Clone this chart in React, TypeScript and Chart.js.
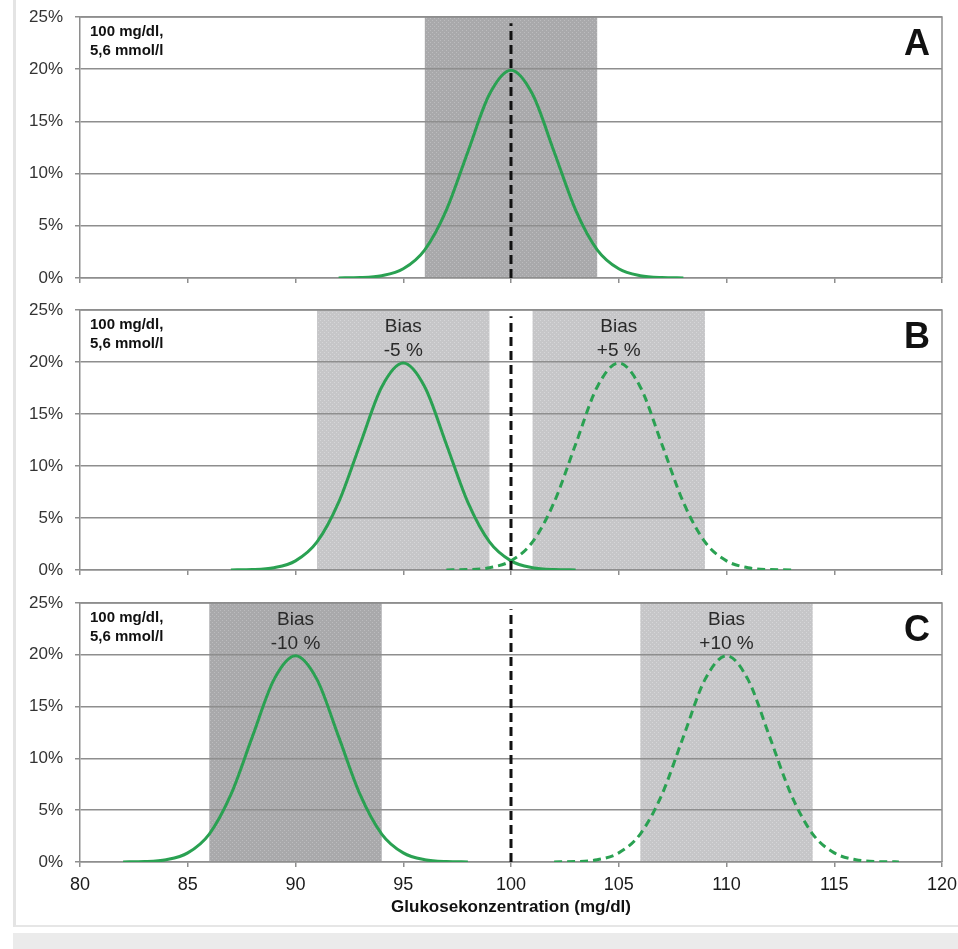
import React, { useEffect, useRef } from 'react';
import { Chart, registerables } from 'chart.js';

Chart.register(...registerables);

// ---------- data ----------
const xMin = 80;
const xMax = 120;
const xStep = 5;
const yTicksPct = [0, 5, 10, 15, 20, 25];
const referenceValue = 100; // mg/dl
const referenceLineTop = 24.4; // % (where the dashed line starts)

// frequency (%) of one measurement distribution (same shape for every curve)
const curvePct = [0.01, 0.04, 0.22, 0.88, 2.7, 6.5, 12.1, 17.6, 19.9, 17.6, 12.1, 6.5, 2.7, 0.88, 0.22, 0.04, 0.01];

const glucoseA = [92, 93, 94, 95, 96, 97, 98, 99, 100, 101, 102, 103, 104, 105, 106, 107, 108];
const glucoseBminus = [87, 88, 89, 90, 91, 92, 93, 94, 95, 96, 97, 98, 99, 100, 101, 102, 103];
const glucoseBplus = [97, 98, 99, 100, 101, 102, 103, 104, 105, 106, 107, 108, 109, 110, 111, 112, 113];
const glucoseCminus = [82, 83, 84, 85, 86, 87, 88, 89, 90, 91, 92, 93, 94, 95, 96, 97, 98];
const glucoseCplus = [102, 103, 104, 105, 106, 107, 108, 109, 110, 111, 112, 113, 114, 115, 116, 117, 118];

const bandsA = [{ from: 96, to: 104, tone: 'dark' }];
const bandsB = [{ from: 91, to: 99, tone: 'light' }, { from: 101, to: 109, tone: 'light' }];
const bandsC = [{ from: 86, to: 94, tone: 'dark' }, { from: 106, to: 114, tone: 'light' }];

const biasB = [{ x: 95, lines: ['Bias', '-5 %'] }, { x: 105, lines: ['Bias', '+5 %'] }];
const biasC = [{ x: 90, lines: ['Bias', '-10 %'] }, { x: 110, lines: ['Bias', '+10 %'] }];

const concLabel = ['100 mg/dl,', '5,6 mmol/l'];
const xTitle = 'Glukosekonzentration (mg/dl)';

// ---------- styles ----------
const FONT = "'Liberation Sans', Arial, sans-serif";
const GREEN = '#2aa152';
const GRID = '#8e8e8e';

type Band = { from: number; to: number; tone: string };
type Bias = { x: number; lines: string[] };
type Curve = { x: number[]; dashed: boolean };
type PanelDef = {
  letter: string;
  curves: Curve[];
  bands: Band[];
  bias: Bias[];
  top: number;
  height: number;
  padTop: number;
  xAxisHeight: number;
  padBottom: number;
  showX: boolean;
};

const panels: PanelDef[] = [
  { letter: 'A', curves: [{ x: glucoseA, dashed: false }], bands: bandsA, bias: [], top: 0, height: 292, padTop: 17, xAxisHeight: 14, padBottom: 0, showX: false },
  { letter: 'B', curves: [{ x: glucoseBminus, dashed: false }, { x: glucoseBplus, dashed: true }], bands: bandsB, bias: biasB, top: 292, height: 290, padTop: 18, xAxisHeight: 12, padBottom: 0, showX: false },
  { letter: 'C', curves: [{ x: glucoseCminus, dashed: false }, { x: glucoseCplus, dashed: true }], bands: bandsC, bias: biasC, top: 582, height: 367, padTop: 21, xAxisHeight: 63, padBottom: 24, showX: true },
];

function makePattern(ctx: CanvasRenderingContext2D, base: string, dot: string) {
  const c = document.createElement('canvas');
  c.width = 4;
  c.height = 4;
  const g = c.getContext('2d')!;
  g.fillStyle = base;
  g.fillRect(0, 0, 4, 4);
  g.fillStyle = dot;
  g.fillRect(0, 0, 1, 1);
  g.fillRect(2, 2, 1, 1);
  return ctx.createPattern(c, 'repeat') || base;
}

function PanelChart({ def }: { def: PanelDef }) {
  const ref = useRef<HTMLCanvasElement | null>(null);
  useEffect(() => {
    const canvas = ref.current!;
    const ctx = canvas.getContext('2d')!;
    const darkFill = makePattern(ctx, '#a9a9ab', '#bcbcbe');
    const lightFill = makePattern(ctx, '#c6c6c8', '#d6d6d8');

    const bandPlugin = {
      id: 'bands',
      beforeDraw(chart: any) {
        const { ctx: c, chartArea, scales } = chart;
        c.save();
        def.bands.forEach((b) => {
          const x0 = scales.x.getPixelForValue(b.from);
          const x1 = scales.x.getPixelForValue(b.to);
          c.fillStyle = b.tone === 'dark' ? darkFill : lightFill;
          c.fillRect(x0, chartArea.top, x1 - x0, chartArea.bottom - chartArea.top);
        });
        c.restore();
      },
      afterDraw(chart: any) {
        const { ctx: c, chartArea, scales } = chart;
        c.save();
        // frame right / top
        c.strokeStyle = GRID;
        c.lineWidth = 1.5;
        c.beginPath();
        c.moveTo(chartArea.left, chartArea.top);
        c.lineTo(chartArea.right, chartArea.top);
        c.lineTo(chartArea.right, chartArea.bottom);
        c.stroke();
        // concentration label
        c.fillStyle = '#111';
        c.font = `bold 15px ${FONT}`;
        c.textAlign = 'left';
        c.textBaseline = 'middle';
        c.fillText(concLabel[0], chartArea.left + 10, chartArea.top + 15);
        c.fillText(concLabel[1], chartArea.left + 10, chartArea.top + 34);
        // panel letter
        c.font = `bold 36px ${FONT}`;
        c.textAlign = 'center';
        c.fillText(def.letter, chartArea.right - 25, chartArea.top + 28);
        // bias labels
        c.font = `19px ${FONT}`;
        c.fillStyle = '#2a2a2a';
        def.bias.forEach((b) => {
          const px = scales.x.getPixelForValue(b.x);
          c.fillText(b.lines[0], px, chartArea.top + 17);
          c.fillText(b.lines[1], px, chartArea.top + 41);
        });
        c.restore();
      },
    };

    const datasets: any[] = [
      {
        data: [{ x: referenceValue, y: 0 }, { x: referenceValue, y: referenceLineTop }],
        borderColor: '#111',
        borderWidth: 3,
        borderDash: [9, 5],
        pointRadius: 0,
        fill: false,
      },
      ...def.curves.map((cv) => ({
        data: cv.x.map((xv, i) => ({ x: xv, y: curvePct[i] })),
        borderColor: GREEN,
        borderWidth: 3,
        borderDash: cv.dashed ? [8, 5] : [],
        pointRadius: 0,
        cubicInterpolationMode: 'monotone',
        fill: false,
      })),
    ];

    const chart = new Chart(canvas, {
      type: 'line',
      data: { datasets },
      plugins: [bandPlugin],
      options: {
        animation: false,
        responsive: false,
        maintainAspectRatio: false,
        events: [],
        layout: { padding: { top: def.padTop, right: 16, left: 0, bottom: def.padBottom } },
        plugins: { legend: { display: false }, tooltip: { enabled: false }, title: { display: false } },
        scales: {
          x: {
            type: 'linear',
            min: xMin,
            max: xMax,
            ticks: {
              display: def.showX,
              stepSize: xStep,
              color: '#1a1a1a',
              font: { family: FONT, size: 18 },
              padding: 7,
              maxRotation: 0,
            },
            grid: { drawOnChartArea: false, drawTicks: true, tickLength: 5, color: GRID, lineWidth: 1.5 },
            border: { display: true, color: GRID, width: 1.5 },
            title: {
              display: def.showX,
              text: xTitle,
              color: '#111',
              font: { family: FONT, size: 17, weight: 'bold' },
              padding: { top: 4, bottom: 7 },
            },
            afterFit(scale: any) {
              scale.height = def.xAxisHeight;
              scale.paddingLeft = 0;
              scale.paddingRight = 0;
              scale.paddingTop = 0;
              scale.paddingBottom = 0;
            },
          },
          y: {
            min: 0,
            max: 25,
            afterBuildTicks(scale: any) {
              scale.ticks = yTicksPct.map((v) => ({ value: v }));
            },
            ticks: {
              color: '#333',
              font: { family: FONT, size: 17 },
              padding: 12,
              callback: (v: any) => `${v}%`,
            },
            grid: { color: GRID, lineWidth: 1.5, tickLength: 5 },
            border: { display: true, color: GRID, width: 1.5 },
            afterFit(scale: any) {
              scale.width = 80;
              scale.paddingTop = 0;
              scale.paddingBottom = 0;
              scale.paddingLeft = 0;
              scale.paddingRight = 0;
            },
          },
        },
      } as any,
    });
    return () => chart.destroy();
  }, [def]);

  return (
    <canvas
      ref={ref}
      width={958}
      height={def.height}
      style={{ position: 'absolute', left: 0, top: def.top, width: 958, height: def.height, display: 'block' }}
    />
  );
}

export default function App() {
  return (
    <div style={{ position: 'absolute', left: 0, top: 0, width: 958, height: 949, background: '#fff', overflow: 'hidden' }}>
      <div style={{ position: 'absolute', left: 13, top: 0, width: 945, height: 927, borderLeft: '3px solid #e4e4e4', borderBottom: '2px solid #e6e6e6', boxSizing: 'border-box' }} />
      <div style={{ position: 'absolute', left: 13, top: 933, width: 945, height: 16, background: '#ebebeb' }} />
      {panels.map((p) => (
        <PanelChart key={p.letter} def={p} />
      ))}
    </div>
  );
}
